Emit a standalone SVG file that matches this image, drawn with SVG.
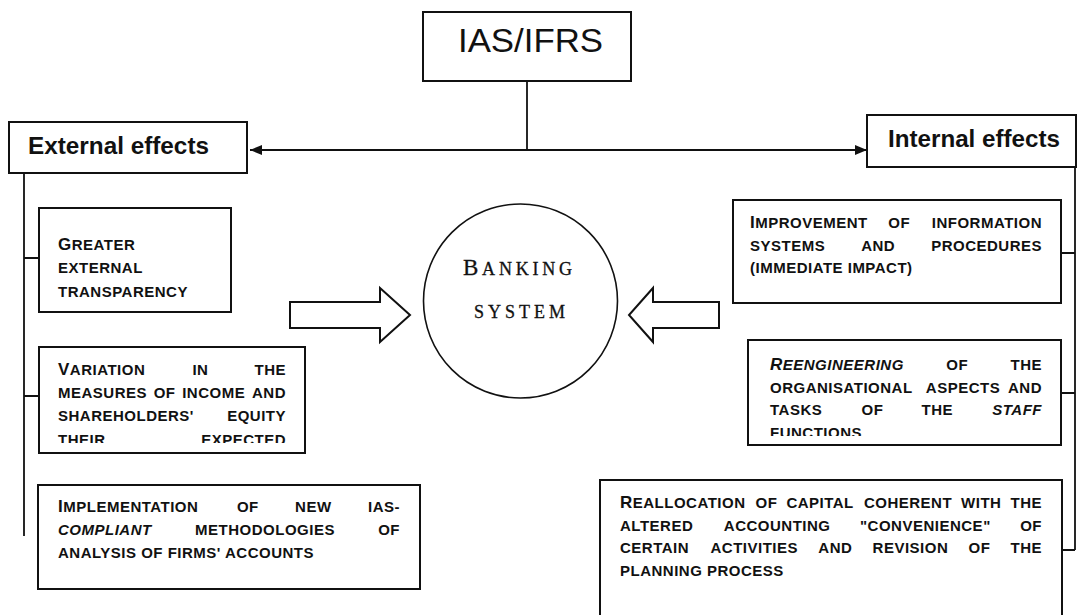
<svg xmlns="http://www.w3.org/2000/svg" width="1079" height="615" viewBox="0 0 1079 615">
<defs>
<style>
.box{fill:#fff;stroke:#111;stroke-width:2}
.conn{stroke:#111;stroke-width:1.8;fill:none}
.sc{font-family:"Liberation Sans",Arial,sans-serif;font-weight:bold;font-size:15px;letter-spacing:0.5px;fill:#111}
.cap{font-size:17px}
.it{font-style:italic}
.end{text-anchor:end}
.head{font-family:"Liberation Sans",Arial,sans-serif;font-weight:bold;font-size:24px;fill:#111}
.serif{font-family:"Liberation Serif","Times New Roman",serif;fill:#111;font-size:18px;stroke:#111;stroke-width:0.3}
.blk{fill:#fff;stroke:#111;stroke-width:2;stroke-linejoin:miter}
</style>
<marker id="ah" viewBox="0 0 12 10" refX="12" refY="5" markerWidth="12" markerHeight="10" markerUnits="userSpaceOnUse" orient="auto-start-reverse">
<path d="M0,0 L12,5 L0,10 Z" fill="#111"/>
</marker>
<clipPath id="clipVar"><rect x="39" y="347" width="266" height="96"/></clipPath>
<clipPath id="clipRee"><rect x="748" y="340" width="313" height="96"/></clipPath>
</defs>
<rect width="1079" height="615" fill="#fff"/>

<g id="connectors">
<path class="conn" d="M527,81 V150"/>
<path class="conn" d="M250,150 H867" marker-start="url(#ah)" marker-end="url(#ah)"/>
<path class="conn" d="M24,173 V536 M24,258 H39 M24,396 H39"/>
<path class="conn" d="M1075,167 V550 M1061,253 H1075 M1061,393 H1075 M1062,550 H1075"/>
<polygon class="blk" points="290,302 380,302 380,288 410,315 380,342 380,328 290,328"/>
<polygon class="blk" points="719,302 653,302 653,288 629,315 653,342 653,328 719,328"/>
</g>

<g id="ias">
<rect class="box" x="423" y="12" width="208" height="69"/>
<text x="458" y="52" textLength="145" lengthAdjust="spacingAndGlyphs" font-family="Liberation Sans, Arial, sans-serif" font-size="34" fill="#111">IAS/IFRS</text>
</g>

<g id="external">
<rect class="box" x="9" y="122" width="238" height="51"/>
<text class="head" x="28" y="154" textLength="181" lengthAdjust="spacingAndGlyphs">External effects</text>
</g>

<g id="internal">
<rect class="box" x="867" y="115" width="209" height="52"/>
<text class="head" x="888" y="147" textLength="172" lengthAdjust="spacingAndGlyphs">Internal effects</text>
</g>

<g id="greater">
<rect class="box" x="39" y="208" width="192" height="104"/>
<text class="sc" x="58" y="250"><tspan class="cap">G</tspan>REATER</text>
<text class="sc" x="58" y="273">EXTERNAL</text>
<text class="sc" x="58" y="297">TRANSPARENCY</text>
</g>

<g id="variation">
<rect class="box" x="39" y="347" width="266" height="106"/>
<g clip-path="url(#clipVar)">
<text class="sc" y="375"><tspan x="58"><tspan class="cap">V</tspan>ARIATION</tspan><tspan x="192.4">IN</tspan></text>
<text class="sc end" x="286" y="375">THE</text>
<text class="sc" y="398"><tspan x="58">MEASURES</tspan><tspan x="153.7">OF</tspan><tspan x="182.2">INCOME</tspan></text>
<text class="sc end" x="286" y="398">AND</text>
<text class="sc" x="58" y="421">SHAREHOLDERS'</text>
<text class="sc end" x="286" y="421">EQUITY</text>
<text class="sc" x="58" y="445">THEIR</text>
<text class="sc end" x="286" y="445">EXPECTED</text>
</g>
</g>

<g id="implementation">
<rect class="box" x="38" y="485" width="382" height="104"/>
<text class="sc" y="512"><tspan x="58"><tspan class="cap">I</tspan>MPLEMENTATION</tspan><tspan x="236.9">OF</tspan><tspan x="295.1">NEW</tspan></text>
<text class="sc end" x="400" y="512">IAS-</text>
<text class="sc" y="535"><tspan x="58" class="it">COMPLIANT</tspan><tspan x="195.1">METHODOLOGIES</tspan></text>
<text class="sc end" x="400" y="535">OF</text>
<text class="sc" x="58" y="558">ANALYSIS OF FIRMS' ACCOUNTS</text>
</g>

<g id="banking">
<circle cx="520.5" cy="301" r="97" fill="#fff" stroke="#111" stroke-width="1.6"/>
<text class="serif" x="463" y="275" textLength="109" lengthAdjust="spacing"><tspan font-size="23">B</tspan>ANKING</text>
<text class="serif" x="474" y="318" textLength="91" lengthAdjust="spacing">SYSTEM</text>
</g>

<g id="improvement">
<rect class="box" x="733" y="200" width="328" height="103"/>
<text class="sc" y="228"><tspan x="750"><tspan class="cap">I</tspan>MPROVEMENT</tspan><tspan x="888.3">OF</tspan></text>
<text class="sc end" x="1042" y="228">INFORMATION</text>
<text class="sc" y="251"><tspan x="750">SYSTEMS</tspan><tspan x="861.2">AND</tspan></text>
<text class="sc end" x="1042" y="251">PROCEDURES</text>
<text class="sc" x="750" y="273">(IMMEDIATE IMPACT)</text>
</g>

<g id="reengineering">
<rect class="box" x="748" y="340" width="313" height="105"/>
<g clip-path="url(#clipRee)">
<text class="sc" y="370"><tspan x="770" class="it"><tspan class="cap">R</tspan>EENGINEERING</tspan><tspan x="946.3">OF</tspan></text>
<text class="sc end" x="1042" y="370">THE</text>
<text class="sc" y="393"><tspan x="770">ORGANISATIONAL</tspan><tspan x="925.8">ASPECTS</tspan></text>
<text class="sc end" x="1042" y="393">AND</text>
<text class="sc" y="415"><tspan x="770">TASKS</tspan><tspan x="861.5">OF</tspan><tspan x="921.5">THE</tspan></text>
<text class="sc end it" x="1042" y="415">STAFF</text>
<text class="sc" x="770" y="438">FUNCTIONS</text>
</g>
</g>

<g id="reallocation">
<rect class="box" x="600" y="480" width="462" height="145"/>
<text class="sc" y="508"><tspan x="620"><tspan class="cap">R</tspan>EALLOCATION</tspan><tspan x="755.6">OF</tspan><tspan x="786.4">CAPITAL</tspan><tspan x="863.9">COHERENT</tspan><tspan x="961.1">WITH</tspan></text>
<text class="sc end" x="1042" y="508">THE</text>
<text class="sc" y="530.5"><tspan x="620">ALTERED</tspan><tspan x="723.8">ACCOUNTING</tspan><tspan x="860">"CONVENIENCE"</tspan></text>
<text class="sc end" x="1042" y="530.5">OF</text>
<text class="sc" y="553"><tspan x="620">CERTAIN</tspan><tspan x="710.5">ACTIVITIES</tspan><tspan x="818.3">AND</tspan><tspan x="872.6">REVISION</tspan><tspan x="968.6">OF</tspan></text>
<text class="sc end" x="1042" y="553">THE</text>
<text class="sc" x="620" y="575.5">PLANNING PROCESS</text>
</g>
</svg>
